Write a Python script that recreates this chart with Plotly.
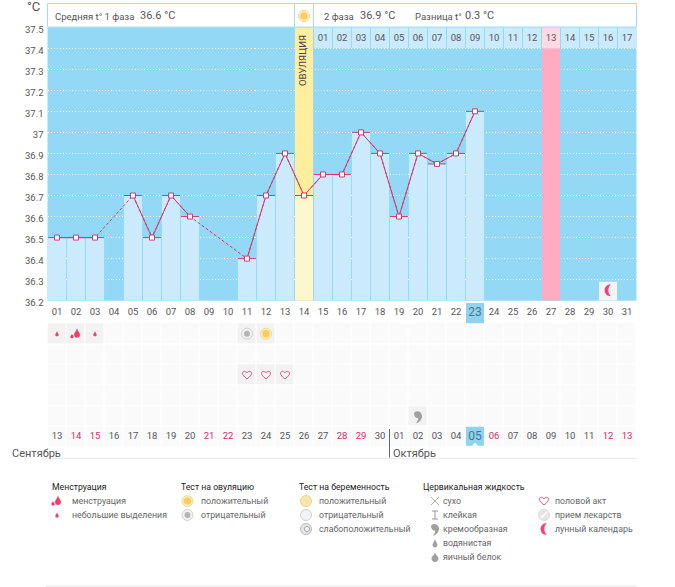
import plotly.graph_objects as go

# ---------- data ----------
days = list(range(1, 32))
temps = [36.5, 36.5, 36.5, None, 36.7, 36.5, 36.7, 36.6, None, None, 36.4, 36.7, 36.9, 36.7, 36.8, 36.8,
         37.0, 36.9, 36.6, 36.9, 36.85, 36.9, 37.1, None, None, None, None, None, None, None, None]
ovulation_day = 14
period_day = 27
today_day = 23
moon_day = 30
cycle_labels = [f"{d:02d}" for d in days]
date_labels = ["13", "14", "15", "16", "17", "18", "19", "20", "21", "22", "23", "24", "25", "26", "27", "28",
               "29", "30", "01", "02", "03", "04", "05", "06", "07", "08", "09", "10", "11", "12", "13"]
red_dates = [2, 3, 9, 10, 16, 17, 24, 30, 31]
phase2_days = list(range(15, 32))
phase2_labels = [f"{d:02d}" for d in range(1, 18)]
temp_ticks = [36.2, 36.3, 36.4, 36.5, 36.6, 36.7, 36.8, 36.9, 37.0, 37.1, 37.2, 37.3, 37.4, 37.5]
temp_tick_labels = ["36.2", "36.3", "36.4", "36.5", "36.6", "36.7", "36.8", "36.9", "37", "37.1", "37.2",
                    "37.3", "37.4", "37.5"]
flow_light_days = [1, 3]
flow_heavy_days = [2]
ovu_neg_days = [11]
ovu_pos_days = [12]
sex_days = [11, 12, 13]
creamy_days = [20]

# ---------- style ----------
W, H = 675, 587
FONT = "Roboto"
BLUE, LIGHT, PINK = "#93D9F5", "#CBEBFD", "#FFACC3"
LINE = "#D2396D"
TEXT = "#555555"
GRAY = "#A0A0A0"
L, R = 47.5, 636.5
def X(p): return p / W
def Y(p): return 1 - p / H

fig = go.Figure()
shapes, notes = [], []

# ---------- temperature panel ----------
shapes.append(dict(type="rect", xref="x domain", yref="y domain", x0=0, x1=1, y0=0, y1=1,
                   fillcolor=BLUE, line_width=0, layer="below"))
def bars(xs, base, tops, color, yaxis="y", width=0.95):
    fig.add_bar(x=xs, base=base, y=[t - b for t, b in zip(tops, base)], width=width, yaxis=yaxis,
                marker=dict(color=color, line_width=0), hoverinfo="skip")

bars([ovulation_day], [36.2], [37.5], "#FFEE9E")
bars([period_day], [36.2], [37.4], PINK)
have = [d for d, t in zip(days, temps) if t is not None]
vals = [t for t in temps if t is not None]
bars(have, [36.2] * len(have), vals, ["#FFF7CC" if d == ovulation_day else LIGHT for d in have])
bars(phase2_days, [37.4] * len(phase2_days), [37.5] * len(phase2_days),
     ["#FFD9E3" if d == period_day else LIGHT for d in phase2_days])
bars([moon_day], [36.2], [36.29], "#F4F4F4")

fig.add_scatter(x=days, y=temps, mode="lines", connectgaps=True, hoverinfo="skip",
                line=dict(color=LINE, width=1, dash="3px,2px"))
fig.add_scatter(x=days, y=temps, mode="lines+markers", connectgaps=False, hoverinfo="skip",
                line=dict(color=LINE, width=1),
                marker=dict(symbol="square", size=5, color="white", line=dict(color=LINE, width=1)),
                error_x=dict(type="constant", value=0.47, thickness=1, width=0, color=LINE))
fig.add_scatter(x=phase2_days, y=[37.447] * len(phase2_days), mode="text", text=phase2_labels, hoverinfo="skip",
                textfont=dict(family=FONT, size=9.5, color="#555555"))

# ---------- lower grid ----------
row_names = list(range(7))
grid = [[0] * 31 for _ in range(6)]
for d in flow_light_days + flow_heavy_days + ovu_neg_days + ovu_pos_days:
    grid[0][d - 1] = 1
for d in sex_days:
    grid[2][d - 1] = 1
for d in creamy_days:
    grid[4][d - 1] = 1
fig.add_heatmap(x=days, y=[r + 1.5 for r in row_names[:6]], z=grid, yaxis="y2", xgap=1, ygap=1, showscale=False,
                zmin=0, zmax=1, colorscale=[[0, "#FAFAFB"], [1, "#F2F2F2"]], hoverinfo="skip")
bars([today_day], [0], [1], "#8FD3F0", "y2")
bars([today_day], [6], [6.92], "#8FD3F0", "y2")
fig.add_scatter(x=days, y=[0.5] * 31, yaxis="y2", mode="text", text=cycle_labels, hoverinfo="skip",
                textfont=dict(family=FONT, size=[12 if d == today_day else 9.5 for d in days],
                              color=["#48768C" if d == today_day else TEXT for d in days]))
fig.add_scatter(x=days, y=[6.5] * 31, yaxis="y2", mode="text", text=date_labels, hoverinfo="skip",
                textfont=dict(family=FONT, size=[12 if d == today_day else 9.5 for d in days],
                              color=["#48768C" if d == today_day else ("#CF2E63" if d in red_dates else TEXT)
                                     for d in days]))

# ---------- icon helpers ----------
def place(a):
    if a["ref"] == "paper":
        return dict(xref="paper", yref="paper", xanchor=X(a["x"]), yanchor=Y(a["y"]))
    return dict(xref="x", yref=a["ref"], xanchor=a["x"], yanchor=a["y"])
def path(a, d, fill="rgba(0,0,0,0)", line=None, lw=1):
    shapes.append(dict(type="path", path=d, xsizemode="pixel", ysizemode="pixel", fillcolor=fill,
                       line=dict(color=line or "rgba(0,0,0,0)", width=lw if line else 0), **place(a)))
def circ(a, r, fill, line=None, lw=1, dx=0, dy=0):
    shapes.append(dict(type="circle", xsizemode="pixel", ysizemode="pixel", x0=dx - r, x1=dx + r, y0=dy - r,
                       y1=dy + r, fillcolor=fill, line=dict(color=line or "rgba(0,0,0,0)", width=lw if line else 0),
                       **place(a)))
def drop_d(r, t, dx=0, dy=0):
    def p(x, y): return f"{dx + x:.1f},{dy + y:.1f}"
    return ("M" + p(0, t) + " C" + p(r * .3, t * .5) + " " + p(r, r * .6) + " " + p(r, 0) + " C" + p(r, -r * 1.3) + " "
            + p(-r, -r * 1.3) + " " + p(-r, 0) + " C" + p(-r, r * .6) + " " + p(-r * .3, t * .5) + " " + p(0, t) + " Z")
FLOW = "#EE3F72"
def flow_small(a): path(a, drop_d(1.7, 3.5, 0, -1), FLOW)
def flow_big(a):
    path(a, drop_d(3, 6.5, 1, -1), FLOW)
    path(a, drop_d(1.7, 3, -4, -3), FLOW)
def ovu_pos(a):
    circ(a, 5.5, "#FDEDB8", "#F9D98C")
    circ(a, 3.6, "#FBCB66")
def ovu_neg(a):
    circ(a, 5.5, "#F2F2F2", "#D2D2D2")
    circ(a, 3, "#B4B4B4")
def heart(a):
    path(a, "M0,-4 C-3,-1.5 -4.5,0 -4.5,1.7 C-4.5,4 -1.5,4.5 0,2.2 C1.5,4.5 4.5,4 4.5,1.7 C4.5,0 3,-1.5 0,-4 Z",
         "rgba(0,0,0,0)", "#E8517F", 1)
def comma(a, c=GRAY):
    path(a, "M-4,3 C-3,6 3,6 4,1 C4.5,-3 1,-6 -2,-7 C0,-4 0.5,-2.5 0,-1.5 C-2,-2 -4,0 -4,3 Z", c)
def moon(a):
    path(a, "M3,6 C-5.5,6 -5.5,-6 3,-6 C-0.5,-3.5 -0.5,3.5 3,6 Z", "#F0447A")
def preg_pos(a):
    circ(a, 5.5, "#FDE7AE", "#F6CF7C")
    circ(a, 2.6, "#F1E3C2", dx=1)
def preg_neg(a):
    circ(a, 5.5, "#F3F3F3", "#CFCFCF")
def preg_weak(a):
    circ(a, 5.5, "#E4E4E4", "#BDBDBD")
    circ(a, 2.6, "#F4F4F4", "#AAAAAA", dx=1)
def dry(a):
    path(a, "M-4,-4 L4,4 M-4,4 L4,-4", line="#B0B0B0")
def sticky(a):
    path(a, "M-3,4 L3,4 M0,4 L0,-4 M-3,-4 L3,-4", line="#999999")
def watery(a): path(a, drop_d(2.5, 6, 0, -2), GRAY)
def eggwhite(a): path(a, drop_d(3.5, 6, 0, -1.5), GRAY)
def pill(a):
    circ(a, 5.5, "#E6E6E6", "#DDDDDD")
    path(a, "M-3,-3 L3,3", line="#FFFFFF", lw=1.5)

def cell(d, row): return dict(ref="y2", x=d, y=row + 0.5)
for d in flow_light_days: flow_small(cell(d, 1))
for d in flow_heavy_days: flow_big(cell(d, 1))
for d in ovu_neg_days: ovu_neg(cell(d, 1))
for d in ovu_pos_days: ovu_pos(cell(d, 1))
for d in sex_days: heart(cell(d, 3))
for d in creamy_days: comma(cell(d, 5))
moon(dict(ref="y", x=moon_day, y=36.25))
shapes.append(dict(type="path", path="M-3,0 L3,0 L0,3 Z", xsizemode="pixel", ysizemode="pixel", xref="x", yref="y2",
                   xanchor=today_day, yanchor=6.92, fillcolor="white", line_width=0))

# ---------- header ----------
HB = "#A5DCEE"
for x0, x1 in [(L, 294.5), (294.5, 313.5), (313.5, R)]:
    shapes.append(dict(type="rect", xref="paper", yref="paper", x0=X(x0), x1=X(x1), y0=Y(27), y1=Y(3.5),
                       fillcolor="white", line=dict(color=HB, width=1)))
ovu_pos(dict(ref="paper", x=304, y=16))

def note(x, y, text, size=10, color=TEXT, anchor="left", angle=0):
    notes.append(dict(xref="paper", yref="paper", x=X(x - 1), y=Y(y), text=text, showarrow=False, xanchor=anchor,
                      yanchor="middle", textangle=angle, align="left", borderpad=0,
                      font=dict(family=FONT, size=size, color=color)))
note(54.5, 16, "Средняя t° 1 фаза", 9.5)
note(140, 15.5, "36.6 °C", 11)
note(324, 16, "2 фаза", 9.5)
note(359.5, 15.5, "36.9 °C", 11)
note(414.5, 16, "Разница t°", 9.5)
note(465, 15.5, "0.3 °C", 11)
note(34, 6, "°C", 13, anchor="center")
note(304, 61, "ОВУЛЯЦИЯ", 9.6, "#444444", anchor="center", angle=-90)
note(12, 453, "Сентябрь", 11)
note(393, 453, "Октябрь", 11)
for x0, x1, y in [(45, R, 458.3), (46, R, 586)]:
    shapes.append(dict(type="line", xref="paper", yref="paper", x0=X(x0), x1=X(x1), y0=Y(y), y1=Y(y),
                       line=dict(color="#E6E6E6", width=1)))
shapes.append(dict(type="line", xref="paper", yref="paper", x0=X(389.5), x1=X(389.5), y0=Y(429), y1=Y(457.5),
                   line=dict(color="#666666", width=1)))

# ---------- legend ----------
legend_groups = [
    ("Менструация", 52, 57, 72, [("менструация", flow_big), ("небольшие выделения", flow_small)]),
    ("Тест на овуляцию", 181, 187.5, 201, [("положительный", ovu_pos), ("отрицательный", ovu_neg)]),
    ("Тест на беременность", 299, 306, 319, [("положительный", preg_pos), ("отрицательный", preg_neg),
                                             ("слабоположительный", preg_weak)]),
    ("Цервикальная жидкость", 423, 435, 443, [("сухо", dry), ("клейкая", sticky), ("кремообразная", comma),
                                              ("водянистая", watery), ("яичный белок", eggwhite)]),
    (None, 0, 544, 555, [("половой акт", heart), ("прием лекарств", pill), ("лунный календарь", moon)]),
]
for title, tx, ix, lx, items in legend_groups:
    if title:
        note(tx, 487, title, 8.7, "#222222")
    for i, (label, icon) in enumerate(items):
        y = 501 + 14 * i
        icon(dict(ref="paper", x=ix, y=y))
        note(lx, y, label, 8.8, "#666666")

# ---------- layout ----------
fig.update_layout(
    width=W, height=H, margin=dict(l=0, r=0, t=0, b=0, autoexpand=False), showlegend=False, barmode="overlay",
    paper_bgcolor="white", plot_bgcolor="rgba(0,0,0,0)", shapes=shapes, annotations=notes,
    xaxis=dict(domain=[X(L), X(R)], range=[0.5, 31.5], visible=False, fixedrange=True, automargin=False),
    yaxis=dict(domain=[Y(300.7), Y(27.2)], range=[36.2, 37.5], tickvals=temp_ticks, ticktext=temp_tick_labels,
               showgrid=True, griddash="1px,2px", gridcolor="rgba(255,255,255,0.95)", gridwidth=1, zeroline=False,
               showline=False, ticks="", ticklabelshift=2, ticklabelstandoff=3, fixedrange=True, automargin=False,
               tickfont=dict(family=FONT, size=9.5, color=TEXT)),
    yaxis2=dict(domain=[Y(447.4), Y(302.7)], range=[7, 0], visible=False, anchor="x", fixedrange=True,
                automargin=False),
)
fig.write_html("out.html", post_script="document.body.style.margin='0';", config=dict(displayModeBar=False))
